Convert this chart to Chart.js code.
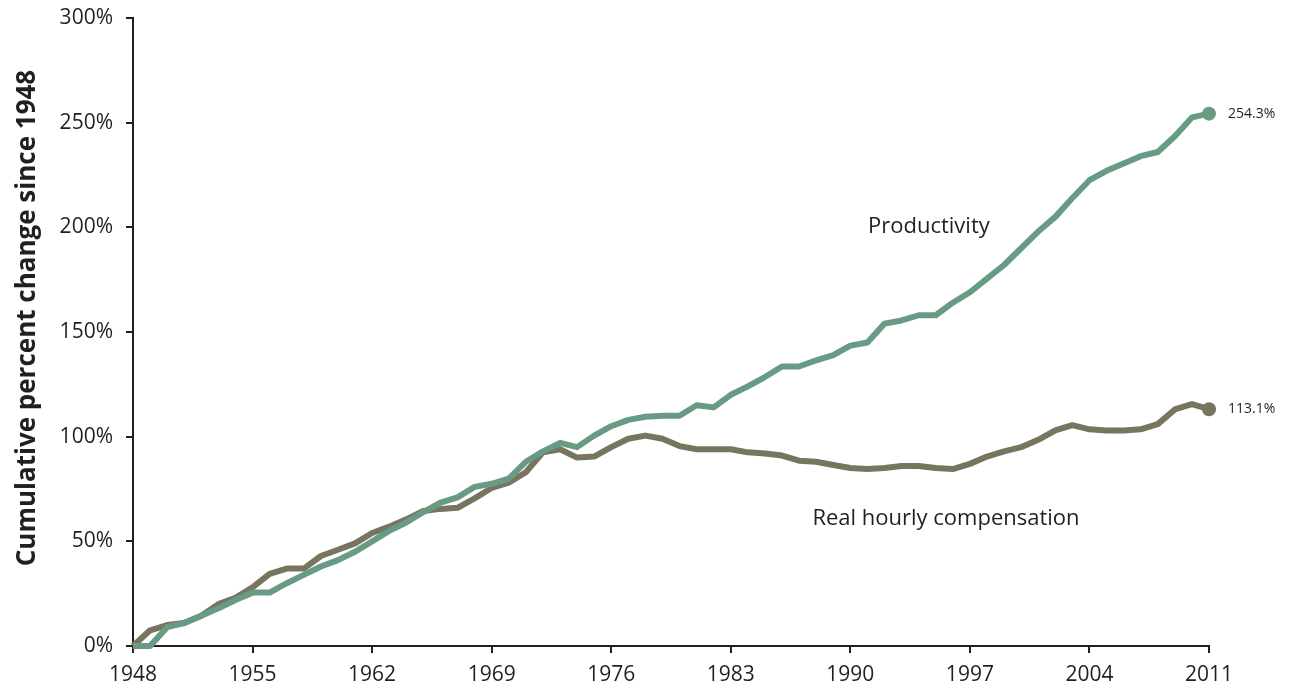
<!DOCTYPE html>
<html>
<head>
<meta charset="utf-8">
<script src="https://cdn.jsdelivr.net/npm/chart.js@4/dist/chart.umd.min.js"></script>
<style>
  html, body { margin: 0; padding: 0; background: #fff; }
  #wrap { width: 1293px; height: 688px; }
</style>
</head>
<body>
<div id="wrap"><canvas id="wageChart" width="1293" height="688"></canvas></div>
<script>
const years = [1948, 1949, 1950, 1951, 1952, 1953, 1954, 1955, 1956, 1957,
  1958, 1959, 1960, 1961, 1962, 1963, 1964, 1965, 1966, 1967,
  1968, 1969, 1970, 1971, 1972, 1973, 1974, 1975, 1976, 1977,
  1978, 1979, 1980, 1981, 1982, 1983, 1984, 1985, 1986, 1987,
  1988, 1989, 1990, 1991, 1992, 1993, 1994, 1995, 1996, 1997,
  1998, 1999, 2000, 2001, 2002, 2003, 2004, 2005, 2006, 2007,
  2008, 2009, 2010, 2011];

const productivity = [0, 0, 9, 11, 14.5, 18, 22, 25.5, 25.5, 30,
  34, 38, 41, 45, 50, 55, 59, 64, 68.5, 71,
  76, 77.5, 80, 88, 93, 97, 95, 100.5, 105, 108,
  109.5, 110, 110, 115, 114, 120, 124, 128.5, 133.5, 133.5,
  136.5, 139, 143.5, 145, 154, 155.5, 158, 158, 164, 169,
  175.5, 182, 190, 198, 205, 214, 222.5, 227, 230.5, 234,
  236, 243.5, 252.5, 254.3];

const compensation = [0, 7.5, 10, 11, 14.5, 20, 23, 28, 34.5, 37,
  37, 43, 46, 49, 54, 57, 60.5, 64.5, 65.5, 66,
  70.5, 75.5, 78, 83, 92.5, 94, 90, 90.5, 95, 99,
  100.5, 99, 95.5, 94, 94, 94, 92.5, 92, 91, 88.5,
  88, 86.5, 85, 84.5, 85, 86, 86, 85, 84.5, 87,
  90.5, 93, 95, 98.5, 103, 105.5, 103.5, 103, 103, 103.5,
  106, 113, 115.5, 113.1];

const xTicks = [1948, 1955, 1962, 1969, 1976, 1983, 1990, 1997, 2004, 2011];
const yTicks = [0, 50, 100, 150, 200, 250, 300];

const greenCol = '#689b84';
const brownCol = '#77755f';
const textCol = '#231f20';

Chart.defaults.font.family = '"Open Sans", sans-serif';
Chart.defaults.color = textCol;

const toPoints = vals => years.map((yr, i) => ({ x: yr, y: vals[i] }));
const endDot = ctx => ctx.dataIndex === years.length - 1 ? 7 : 0;

// axis title, line labels and end values
const labelPlugin = {
  id: 'lineLabels',
  afterDatasetsDraw(chart) {
    const { ctx, scales } = chart;
    const x = scales.x, y = scales.y;
    ctx.save();
    ctx.fillStyle = textCol;
    ctx.textBaseline = 'middle';

    ctx.save();
    ctx.translate(28, 318);
    ctx.rotate(-Math.PI / 2);
    ctx.textAlign = 'center';
    ctx.font = 'bold 26px "Open Sans", sans-serif';
    ctx.fillText('Cumulative percent change since 1948', 0, 0);
    ctx.restore();

    ctx.font = '22px "Open Sans", sans-serif';
    ctx.textAlign = 'center';
    ctx.fillText('Productivity', x.getPixelForValue(1994.6), y.getPixelForValue(200.5));
    ctx.fillText('Real hourly compensation', x.getPixelForValue(1995.6), y.getPixelForValue(61));

    ctx.font = '14px "Open Sans", sans-serif';
    ctx.textAlign = 'left';
    const last = years.length - 1;
    ctx.fillText(productivity[last].toFixed(1) + '%', x.getPixelForValue(years[last]) + 19, y.getPixelForValue(productivity[last]));
    ctx.fillText(compensation[last].toFixed(1) + '%', x.getPixelForValue(years[last]) + 19, y.getPixelForValue(compensation[last]));
    ctx.restore();
  }
};

const config = {
  type: 'line',
  data: {
    datasets: [{
        label: 'Productivity',
        data: toPoints(productivity),
        borderColor: greenCol,
        backgroundColor: greenCol,
        borderWidth: 6,
        pointRadius: endDot,
        pointBorderWidth: 0,
        tension: 0,
        borderJoinStyle: 'round',
        clip: false
      }, {
        label: 'Real hourly compensation',
        data: toPoints(compensation),
        borderColor: brownCol,
        backgroundColor: brownCol,
        borderWidth: 6,
        pointRadius: endDot,
        pointBorderWidth: 0,
        tension: 0,
        borderJoinStyle: 'round',
        clip: false
    }]
  },
  options: {
    responsive: false,
    animation: false,
    events: [],
    layout: { padding: { top: 18, right: 84, left: 0, bottom: 0 } },
    plugins: {
      legend: { display: false },
      tooltip: { enabled: false }
    },
    scales: {
      x: {
        type: 'linear',
        min: 1948,
        max: 2011,
        afterBuildTicks: s => { s.ticks = xTicks.map(v => ({ value: v })); },
        afterFit: s => { s.height = 42; s.paddingLeft = 0; s.paddingRight = 0; },
        border: { display: true, color: '#231f20', width: 2 },
        grid: { drawOnChartArea: false, drawTicks: true, tickLength: 7, color: '#231f20', lineWidth: 2 },
        ticks: {
          padding: 9,
          maxRotation: 0,
          font: { size: 21 },
          color: textCol,
          callback: v => String(v)
        }
      },
      y: {
        min: 0,
        max: 300,
        afterBuildTicks: s => { s.ticks = yTicks.map(v => ({ value: v })); },
        afterFit: s => { s.width = 133; s.paddingTop = 0; s.paddingBottom = 0; },
        border: { display: true, color: '#231f20', width: 2 },
        grid: { drawOnChartArea: false, drawTicks: true, tickLength: 7, color: '#231f20', lineWidth: 2 },
        ticks: {
          padding: 13,
          font: { size: 21 },
          color: textCol,
          callback: v => v + '%'
        }
      }
    }
  },
  plugins: [labelPlugin]
};

const ctx = document.getElementById('wageChart').getContext('2d');
const wageChart = new Chart(ctx, config);
</script>
</body>
</html>
